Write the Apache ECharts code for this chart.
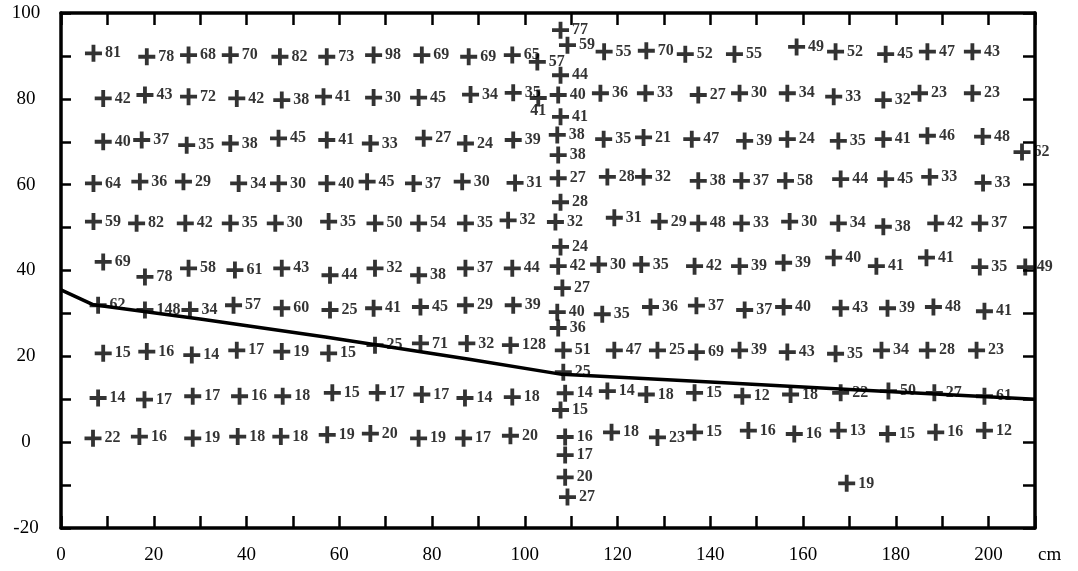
<!DOCTYPE html>
<html><head><meta charset="utf-8">
<script src="https://cdn.jsdelivr.net/npm/echarts@6/dist/echarts.min.js"></script>
<style>html,body{margin:0;padding:0;background:#fff}#c{width:1078px;height:571px}</style>
</head><body><div id="c"></div>
<script>
// ---- data: [x (cm), y, value label] ----
const row1 = [[7.0,90.6,81],[18.5,89.8,78],[27.5,90.2,68],[36.5,90.2,70],[47.2,89.8,82],[57.3,89.8,73],[67.4,90.2,98],[77.8,90.2,69],[87.9,89.8,69],[97.3,90.2,65],
  [117.1,91.0,55],[126.2,91.2,70],[134.6,90.4,52],[145.2,90.4,55],[158.6,92.1,49],[167.0,91.0,52],[177.8,90.4,45],[186.8,91.0,47],[196.5,91.0,43]];
const row2 = [[9.1,80.1,42],[18.1,80.9,43],[27.5,80.5,72],[37.9,80.1,42],[47.6,79.7,38],[56.6,80.5,41],[67.4,80.3,30],[77.1,80.3,45],[88.3,81.0,34],[97.5,81.4,35],
  [116.3,81.3,36],[126.0,81.3,33],[137.4,80.9,27],[146.3,81.3,30],[156.6,81.3,34],[166.6,80.5,33],[177.3,79.7,32],[185.1,81.3,23],[196.5,81.3,23]];
const row3 = [[9.1,70.0,40],[17.4,70.4,37],[27.1,69.2,35],[36.5,69.6,38],[46.9,70.8,45],[57.3,70.4,41],[66.7,69.6,33],[78.2,70.8,27],[87.2,69.6,24],[97.5,70.4,39],
  [117.0,70.6,35],[125.6,71.0,21],[136.0,70.6,47],[147.4,70.2,39],[156.6,70.6,24],[167.6,70.2,35],[177.3,70.6,41],[186.8,71.4,46],[198.7,71.2,48],[207.2,67.6,62]];
const row4 = [[7.0,60.3,64],[17.0,60.7,36],[26.4,60.7,29],[38.3,60.3,34],[46.9,60.3,30],[57.3,60.3,40],[66.0,60.7,45],[76.0,60.3,37],[86.5,60.7,30],[97.9,60.4,31],
  [117.8,61.8,28],[125.6,61.8,32],[137.4,60.9,38],[146.7,60.9,37],[156.2,60.9,58],[168.1,61.3,44],[177.8,61.3,45],[187.3,61.8,33],[198.8,60.4,33]];
const row5 = [[7.0,51.4,59],[16.3,51.0,82],[26.8,51.0,42],[36.5,51.0,35],[46.2,51.0,30],[57.7,51.4,35],[67.7,51.0,50],[77.1,51.0,54],[87.2,51.0,35],[96.4,51.7,32],
  [119.3,52.3,31],[129.0,51.4,29],[137.4,51.0,48],[146.7,51.0,33],[157.1,51.4,30],[167.6,51.0,34],[177.3,50.2,38],[188.6,51.0,42],[198.1,51.0,37]];
const row6 = [[9.1,42.0,69],[18.1,38.5,78],[27.5,40.5,58],[37.5,40.1,61],[47.6,40.5,43],[58.0,38.9,44],[67.7,40.5,32],[77.1,38.9,38],[87.2,40.5,37],[97.3,40.5,44],
  [115.9,41.4,30],[125.1,41.4,35],[136.6,41.0,42],[146.3,41.0,39],[155.8,41.8,39],[166.6,43.0,40],[175.8,41.0,41],[186.6,43.0,41],[198.1,40.8,35],[207.9,40.8,49]];
const row7 = [[8.0,31.9,62],[18.1,30.8,148],[27.8,30.8,34],[37.2,31.9,57],[47.6,31.2,60],[58.0,30.8,25],[67.4,31.2,41],[77.5,31.5,45],[87.2,31.9,29],[97.5,31.9,39],
  [116.7,29.8,35],[127.1,31.5,36],[137.0,31.8,37],[147.4,30.8,37],[155.8,31.5,40],[168.1,31.2,43],[178.2,31.2,39],[188.1,31.5,48],[199.1,30.5,41]];
const row8 = [[9.1,20.7,15],[18.5,21.1,16],[28.2,20.3,14],[37.9,21.4,17],[47.6,21.1,19],[57.7,20.7,15],[67.7,22.6,25],[77.5,23.0,71],[87.5,23.0,32],[96.9,22.6,128],
  [119.3,21.4,47],[128.6,21.4,25],[137.0,21.0,69],[146.3,21.4,39],[156.6,21.0,43],[167.0,20.6,35],[176.9,21.4,34],[186.8,21.4,28],[197.4,21.4,23]];
const row9 = [[8.0,10.3,14],[18.0,9.9,17],[28.4,10.7,17],[38.5,10.7,16],[47.8,10.7,18],[58.5,11.5,15],[68.2,11.5,17],[77.8,11.1,17],[87.1,10.3,14],[97.3,10.5,18],
  [117.8,11.9,14],[126.2,11.1,18],[136.6,11.5,15],[146.9,10.7,12],[157.3,11.1,18],[168.1,11.5,22],[178.4,11.9,50],[188.3,11.5,27],[199.1,10.7,61]];
const row10 = [[6.9,0.9,22],[16.9,1.3,16],[28.4,0.9,19],[38.1,1.3,18],[47.4,1.3,18],[57.4,1.7,19],[66.7,2.0,20],[77.1,0.9,19],[86.8,0.9,17],[96.9,1.5,20],
  [118.7,2.3,18],[128.6,1.1,23],[136.6,2.3,15],[148.2,2.7,16],[158.1,1.9,16],[167.6,2.7,13],[178.2,1.9,15],[188.6,2.3,16],[199.1,2.7,12]];
const centerColumn = [[107.7,96.0,77],[109.2,92.5,59],[102.7,88.6,57],[107.7,85.5,44],[102.9,80.2,41],[107.2,80.9,40],[107.7,75.8,41],[107.0,71.6,38],
  [107.2,66.9,38],[107.2,61.5,27],[107.7,55.9,28],[106.6,51.3,32],[107.7,45.5,24],[107.2,41.0,42],[108.1,35.9,27],[107.0,30.3,40],[107.2,26.6,36],
  [108.3,21.4,51],[108.3,16.3,25],[108.7,11.4,14],[107.7,7.5,15],[108.7,1.2,16],[108.7,-3.0,17],[108.7,-8.2,20],[109.2,-12.8,27]];
const extraPoints = [[169.4,-9.6,19]];
// boundary curve
const curveX = [0, 7, 30, 57, 88, 108, 140, 170, 210];
const curveY = [35.5, 32, 28.7, 24.5, 19.3, 15.8, 14.0, 12.3, 10.0];
// tick labels
const xTickLabels = [0, 20, 40, 60, 80, 100, 120, 140, 160, 180, 200];
const yTickLabels = [-20, 0, 20, 40, 60, 80, 100];

// ---- label tweaks (layout only) ----
const labelTweaks = [
  {arr: row1, i: 9, label: {offset: [-3, -12]}},
  {arr: row2, i: 9, label: {offset: [-5, -11]}},
  {arr: centerColumn, i: 2, label: {offset: [-3, -4]}},
  {arr: centerColumn, i: 4, label: {position: 'bottom', distance: -4}},
  {arr: row3, i: row3.length - 1, label: {offset: [20, -6]}},
  {arr: row6, i: row6.length - 1, label: {offset: [16, -2]}}
];

const allRows = [row1, row2, row3, row4, row5, row6, row7, row8, row9, row10, centerColumn, extraPoints];
const scatterData = [];
allRows.forEach(arr => {
  arr.forEach((p, i) => {
    const item = {value: p};
    const t = labelTweaks.find(o => o.arr === arr && o.i === i);
    if (t) item.label = t.label;
    scatterData.push(item);
  });
});
const curveData = curveX.map((x, i) => [x, curveY[i]]);

const serif = 'Liberation Serif';
const tickStyle = {inside: true, length: 12, lineStyle: {color: '#000', width: 2.5}};
const lineStyle = {color: '#000', width: 3.5};

const chart = echarts.init(document.getElementById('c'), null, {renderer: 'canvas'});
chart.setOption({
  backgroundColor: '#fff',
  animation: false,
  grid: {left: 61, right: 43, top: 13, bottom: 43, containLabel: false},
  xAxis: [
    {type: 'value', position: 'bottom', min: 0, max: 210, interval: 10,
     axisLine: {show: true, onZero: false, lineStyle: lineStyle},
     axisTick: tickStyle, splitLine: {show: false},
     axisLabel: {margin: 18, color: '#000', fontFamily: serif, fontSize: 19,
       formatter: v => xTickLabels.includes(v) ? String(v) : ''}},
    {type: 'value', position: 'top', min: 0, max: 210, interval: 10,
     axisLine: {show: true, onZero: false, lineStyle: lineStyle},
     axisTick: tickStyle, splitLine: {show: false}, axisLabel: {show: false}}
  ],
  yAxis: [
    {type: 'value', position: 'left', min: -20, max: 100, interval: 10,
     axisLine: {show: true, onZero: false, lineStyle: lineStyle},
     axisTick: {inside: true, length: 10, lineStyle: {color: '#000', width: 2.5}},
     splitLine: {show: false},
     axisLabel: {margin: 35, align: 'center', color: '#000', fontFamily: serif, fontSize: 19,
       formatter: v => yTickLabels.includes(v) ? String(v) : ''}},
    {type: 'value', position: 'right', min: -20, max: 100, interval: 10,
     axisLine: {show: true, onZero: false, lineStyle: lineStyle},
     axisTick: tickStyle, splitLine: {show: false}, axisLabel: {show: false}}
  ],
  graphic: [
    {type: 'text', left: 1038, top: 546, style: {text: 'cm', fill: '#000', font: '19px "Liberation Serif"'}}
  ],
  series: [
    {type: 'line', xAxisIndex: 0, yAxisIndex: 0, data: curveData, symbol: 'none',
     lineStyle: {color: '#000', width: 3.5}, z: 3, silent: true},
    {type: 'scatter', xAxisIndex: 0, yAxisIndex: 0, data: scatterData,
     symbol: 'path://M6.2,0H9.8V6.2H16V9.8H9.8V16H6.2V9.8H0V6.2H6.2Z',
     symbolSize: 17, itemStyle: {color: '#000'}, z: 4, clip: false,
     label: {show: true, position: 'right', distance: 3, color: '#000',
       fontFamily: serif, fontWeight: 'bold', fontSize: 16,
       formatter: p => String(p.value[2])},
     labelLayout: {hideOverlap: false}}
  ]
});
</script></body></html>
